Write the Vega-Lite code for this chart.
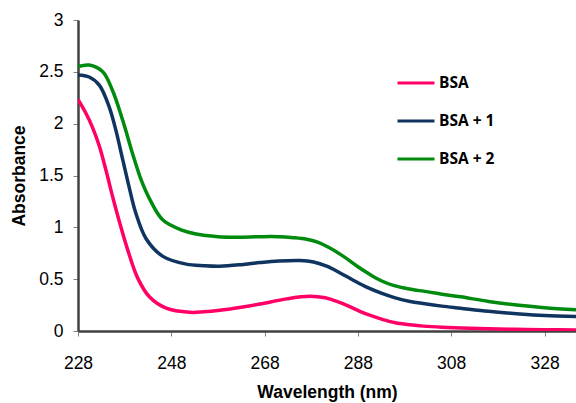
{
  "$schema": "https://vega.github.io/schema/vega-lite/v6.json",
  "width": 498,
  "height": 311,
  "autosize": {"type": "none"},
  "padding": {"left": 78, "top": 20, "right": 0, "bottom": 72},
  "config": {
    "font": "Liberation Sans",
    "view": {"stroke": null},
    "axis": {"grid": false}
  },
  "datasets": {
    "spectra": [
      {"wl": 228, "abs": 2.235, "sample": "BSA"},
      {"wl": 229.7, "abs": 2.1, "sample": "BSA"},
      {"wl": 231.15, "abs": 1.96, "sample": "BSA"},
      {"wl": 232.6, "abs": 1.78, "sample": "BSA"},
      {"wl": 234, "abs": 1.55, "sample": "BSA"},
      {"wl": 235.4, "abs": 1.3, "sample": "BSA"},
      {"wl": 236.9, "abs": 1.05, "sample": "BSA"},
      {"wl": 238.6, "abs": 0.79, "sample": "BSA"},
      {"wl": 240.8, "abs": 0.51, "sample": "BSA"},
      {"wl": 243.3, "abs": 0.33, "sample": "BSA"},
      {"wl": 246.9, "abs": 0.22, "sample": "BSA"},
      {"wl": 251.9, "abs": 0.18, "sample": "BSA"},
      {"wl": 255, "abs": 0.185, "sample": "BSA"},
      {"wl": 258.4, "abs": 0.2, "sample": "BSA"},
      {"wl": 263, "abs": 0.23, "sample": "BSA"},
      {"wl": 267, "abs": 0.26, "sample": "BSA"},
      {"wl": 272.7, "abs": 0.31, "sample": "BSA"},
      {"wl": 277.7, "abs": 0.335, "sample": "BSA"},
      {"wl": 281, "abs": 0.32, "sample": "BSA"},
      {"wl": 283.5, "abs": 0.285, "sample": "BSA"},
      {"wl": 286, "abs": 0.24, "sample": "BSA"},
      {"wl": 288.4, "abs": 0.19, "sample": "BSA"},
      {"wl": 291, "abs": 0.145, "sample": "BSA"},
      {"wl": 293.4, "abs": 0.11, "sample": "BSA"},
      {"wl": 296, "abs": 0.08, "sample": "BSA"},
      {"wl": 299.2, "abs": 0.06, "sample": "BSA"},
      {"wl": 302, "abs": 0.047, "sample": "BSA"},
      {"wl": 306, "abs": 0.036, "sample": "BSA"},
      {"wl": 310, "abs": 0.03, "sample": "BSA"},
      {"wl": 316, "abs": 0.022, "sample": "BSA"},
      {"wl": 322, "abs": 0.016, "sample": "BSA"},
      {"wl": 328, "abs": 0.012, "sample": "BSA"},
      {"wl": 335, "abs": 0.01, "sample": "BSA"},

      {"wl": 228, "abs": 2.47, "sample": "BSA + 1"},
      {"wl": 230.4, "abs": 2.45, "sample": "BSA + 1"},
      {"wl": 232.6, "abs": 2.37, "sample": "BSA + 1"},
      {"wl": 234.7, "abs": 2.16, "sample": "BSA + 1"},
      {"wl": 236.1, "abs": 1.94, "sample": "BSA + 1"},
      {"wl": 237.6, "abs": 1.65, "sample": "BSA + 1"},
      {"wl": 239, "abs": 1.38, "sample": "BSA + 1"},
      {"wl": 240.3, "abs": 1.15, "sample": "BSA + 1"},
      {"wl": 242.6, "abs": 0.89, "sample": "BSA + 1"},
      {"wl": 246.2, "abs": 0.72, "sample": "BSA + 1"},
      {"wl": 251.2, "abs": 0.645, "sample": "BSA + 1"},
      {"wl": 255, "abs": 0.63, "sample": "BSA + 1"},
      {"wl": 258.4, "abs": 0.625, "sample": "BSA + 1"},
      {"wl": 263, "abs": 0.64, "sample": "BSA + 1"},
      {"wl": 267, "abs": 0.66, "sample": "BSA + 1"},
      {"wl": 271, "abs": 0.675, "sample": "BSA + 1"},
      {"wl": 275.6, "abs": 0.68, "sample": "BSA + 1"},
      {"wl": 278.5, "abs": 0.665, "sample": "BSA + 1"},
      {"wl": 281.3, "abs": 0.625, "sample": "BSA + 1"},
      {"wl": 284, "abs": 0.565, "sample": "BSA + 1"},
      {"wl": 287, "abs": 0.49, "sample": "BSA + 1"},
      {"wl": 290, "abs": 0.42, "sample": "BSA + 1"},
      {"wl": 293, "abs": 0.365, "sample": "BSA + 1"},
      {"wl": 296, "abs": 0.32, "sample": "BSA + 1"},
      {"wl": 299.2, "abs": 0.285, "sample": "BSA + 1"},
      {"wl": 302, "abs": 0.265, "sample": "BSA + 1"},
      {"wl": 306, "abs": 0.24, "sample": "BSA + 1"},
      {"wl": 310, "abs": 0.22, "sample": "BSA + 1"},
      {"wl": 316, "abs": 0.19, "sample": "BSA + 1"},
      {"wl": 322.7, "abs": 0.165, "sample": "BSA + 1"},
      {"wl": 328, "abs": 0.15, "sample": "BSA + 1"},
      {"wl": 335, "abs": 0.14, "sample": "BSA + 1"},

      {"wl": 228, "abs": 2.55, "sample": "BSA + 2"},
      {"wl": 230.4, "abs": 2.565, "sample": "BSA + 2"},
      {"wl": 233.3, "abs": 2.5, "sample": "BSA + 2"},
      {"wl": 235.4, "abs": 2.32, "sample": "BSA + 2"},
      {"wl": 237.6, "abs": 2.03, "sample": "BSA + 2"},
      {"wl": 239.7, "abs": 1.71, "sample": "BSA + 2"},
      {"wl": 241.6, "abs": 1.45, "sample": "BSA + 2"},
      {"wl": 243.5, "abs": 1.26, "sample": "BSA + 2"},
      {"wl": 246.2, "abs": 1.07, "sample": "BSA + 2"},
      {"wl": 250.4, "abs": 0.97, "sample": "BSA + 2"},
      {"wl": 253.3, "abs": 0.935, "sample": "BSA + 2"},
      {"wl": 258, "abs": 0.91, "sample": "BSA + 2"},
      {"wl": 262, "abs": 0.905, "sample": "BSA + 2"},
      {"wl": 267, "abs": 0.91, "sample": "BSA + 2"},
      {"wl": 271, "abs": 0.91, "sample": "BSA + 2"},
      {"wl": 274.2, "abs": 0.9, "sample": "BSA + 2"},
      {"wl": 277, "abs": 0.885, "sample": "BSA + 2"},
      {"wl": 279.2, "abs": 0.86, "sample": "BSA + 2"},
      {"wl": 282, "abs": 0.8, "sample": "BSA + 2"},
      {"wl": 284.9, "abs": 0.72, "sample": "BSA + 2"},
      {"wl": 288, "abs": 0.62, "sample": "BSA + 2"},
      {"wl": 290.6, "abs": 0.545, "sample": "BSA + 2"},
      {"wl": 293, "abs": 0.485, "sample": "BSA + 2"},
      {"wl": 295.6, "abs": 0.44, "sample": "BSA + 2"},
      {"wl": 299, "abs": 0.405, "sample": "BSA + 2"},
      {"wl": 302.7, "abs": 0.38, "sample": "BSA + 2"},
      {"wl": 306, "abs": 0.355, "sample": "BSA + 2"},
      {"wl": 310, "abs": 0.33, "sample": "BSA + 2"},
      {"wl": 316, "abs": 0.285, "sample": "BSA + 2"},
      {"wl": 322, "abs": 0.25, "sample": "BSA + 2"},
      {"wl": 328, "abs": 0.225, "sample": "BSA + 2"},
      {"wl": 335, "abs": 0.205, "sample": "BSA + 2"}
    ]
  },
  "layer": [
    {
      "data": {"name": "spectra"},
      "mark": {"type": "line", "strokeWidth": 3.5, "interpolate": "catmull-rom", "clip": true},
      "encoding": {
        "x": {
          "field": "wl",
          "type": "quantitative",
          "scale": {"domain": [228, 334.75], "nice": false, "zero": false},
          "axis": {
            "title": "Wavelength (nm)",
            "values": [228, 248, 268, 288, 308, 328],
            "format": "d",
            "labelFontSize": 17.5,
            "labelColor": "#000000",
            "labelPadding": 18,
            "labelFlush": false,
            "titleFontSize": 17.5,
            "titleFontWeight": "bold",
            "titleColor": "#000000",
            "titlePadding": 12,
            "domainColor": "#404040",
            "domainWidth": 2.5,
            "tickColor": "#808080",
            "tickSize": 5,
            "tickWidth": 1
          }
        },
        "y": {
          "field": "abs",
          "type": "quantitative",
          "scale": {"domain": [0, 3], "nice": false},
          "axis": {
            "title": "Absorbance",
            "values": [0, 0.5, 1, 1.5, 2, 2.5, 3],
            "format": "~g",
            "labelFontSize": 17.5,
            "labelColor": "#000000",
            "labelPadding": 10,
            "labelFlush": false,
            "titleFontSize": 17.5,
            "titleFontWeight": "bold",
            "titleColor": "#000000",
            "titlePadding": 10,
            "domainColor": "#404040",
            "domainWidth": 2.5,
            "tickColor": "#808080",
            "tickSize": 5,
            "tickWidth": 1
          }
        },
        "color": {
          "field": "sample",
          "type": "nominal",
          "scale": {"domain": ["BSA", "BSA + 1", "BSA + 2"], "range": ["#FF0066", "#0F3460", "#008A0E"]},
          "legend": {
            "title": null,
            "orient": "none",
            "legendX": 318,
            "legendY": 43,
            "symbolType": "stroke",
            "symbolSize": 1369,
            "symbolStrokeWidth": 3,
            "labelFontSize": 15.5,
            "labelFontWeight": "bold",
            "labelFont": "Open Sans",
            "labelColor": "#000000",
            "labelOffset": 3,
            "rowPadding": 9
          }
        }
      }
    },
    {
      "mark": {"type": "rule", "color": "#404040", "strokeWidth": 2.5},
      "encoding": {"y": {"datum": 3}}
    }
  ]
}
